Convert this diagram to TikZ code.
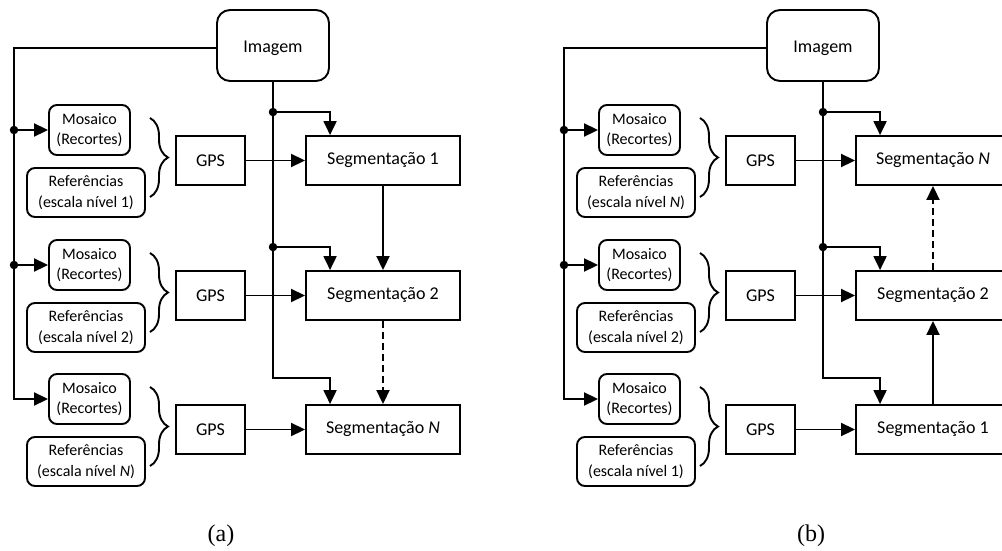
\documentclass[tikz,border=0pt]{standalone}
\usepackage{fontspec}
\setmainfont{Carlito}
\newfontfamily\capfont{Liberation Serif}
\usetikzlibrary{arrows.meta,decorations.pathreplacing,calc}

\tikzset{
  ln/.style={line width=1.9pt},
  blk/.style={draw, line width=1.9pt, minimum height=49pt, inner sep=0pt,
    align=center, font=\fontsize{18}{21}\selectfont},
  smallbox/.style={draw, line width=1.9pt, rounded corners=8pt, inner sep=0pt,
    align=center, font=\fontsize{16}{20.5}\selectfont},
  arr/.style={line width=1.9pt, -{Triangle[length=14pt,width=13pt]}},
  junction/.style={circle, fill, inner sep=0pt, minimum size=8.5pt},
  brc/.style={line width=1.9pt, decorate, decoration={brace, amplitude=18pt}},
  caption/.style={font=\capfont\fontsize{24}{26}\selectfont},
}

% one processing stage: #1 panel prefix, #2 stage index, #3 vertical offset,
% #4 reference level, #5 segmentation label
\newcommand\stage[5]{%
  \node[smallbox, minimum width=81pt, minimum height=50pt] (#1mos#2) at (89.5,-130-#3) {Mosaico\\(Recortes)};
  \node[smallbox, minimum width=118pt, minimum height=49pt] (#1ref#2) at (86,-192.5-#3) {Referências\\(escala nível #4)};
  \node[blk, minimum width=69pt] (#1gps#2) at (210.5,-160.5-#3) {GPS};
  \node[blk, minimum width=154pt] (#1seg#2) at (383,-160.5-#3) {Segmentação #5};
  \draw[brc] (150,-118-#3) -- (150,-197-#3);
  \draw[arr] (#1gps#2) -- (#1seg#2);
}

% common skeleton of one panel: image box, feed lines and junctions
\newcommand\skeleton[1]{%
  \node[blk, rounded corners=13pt, minimum width=112pt, minimum height=71pt] (#1img) at (273,-45.5) {\raisebox{-3pt}[\height][\depth]{Imagem}};
  \coordinate (#1left) at (14,-48);
  % image to the mosaics
  \draw[arr] (#1img.west |- #1left) -- (#1left) -- (#1left |- #1mos3.west) -- (#1mos3.west);
  \node[junction] (#1dA) at (#1left |- #1mos1.west) {};
  \node[junction] (#1dB) at (#1left |- #1mos2.west) {};
  \draw[arr] (#1dA.center) -- (#1mos1.west);
  \draw[arr] (#1dB.center) -- (#1mos2.west);
  % image to the segmentations
  \coordinate (#1t1) at ($(#1seg1.north west)+(25,0)$);
  \coordinate (#1t2) at ($(#1seg2.north west)+(25,0)$);
  \coordinate (#1t3) at ($(#1seg3.north west)+(25,0)$);
  \node[junction] (#1jA) at (#1img.south |- {$(#1t1)+(0,23)$}) {};
  \node[junction] (#1jB) at (#1img.south |- {$(#1t2)+(0,23)$}) {};
  \draw[arr] (#1img.south) |- ($(#1t3)+(0,26)$) -- (#1t3);
  \draw[arr] (#1jA.center) -| (#1t1);
  \draw[arr] (#1jB.center) -| (#1t2);
}

\begin{document}
\begin{tikzpicture}[x=1pt, y=1pt]
  \useasboundingbox (0,0) rectangle (1002,-551);
  \clip (0,0) rectangle (1002,-551);

  % panel (a): coarse to fine, top to bottom
  \begin{scope}
    \stage{A}{1}{0}{1}{1}
    \stage{A}{2}{135}{2}{2}
    \stage{A}{3}{269}{\textit{N}}{\textit{N}}
    \skeleton{A}
    \draw[arr] (Aseg1) -- (Aseg2);
    \draw[arr, dash pattern=on 7pt off 4pt] (Aseg2) -- (Aseg3);
    \node[caption] (capA) at (221,-536) {(a)};
  \end{scope}

  % panel (b): the order reversed, bottom to top
  \begin{scope}[xshift=550pt]
    \stage{B}{1}{0}{\textit{N}}{\textit{N}}
    \stage{B}{2}{135}{2}{2}
    \stage{B}{3}{269}{1}{1}
    \skeleton{B}
    \draw[arr] (Bseg3) -- (Bseg2);
    \draw[arr, dash pattern=on 7pt off 4pt] (Bseg2) -- (Bseg1);
    \node[caption] (capB) at (261,-536) {(b)};
  \end{scope}
\end{tikzpicture}
\end{document}
